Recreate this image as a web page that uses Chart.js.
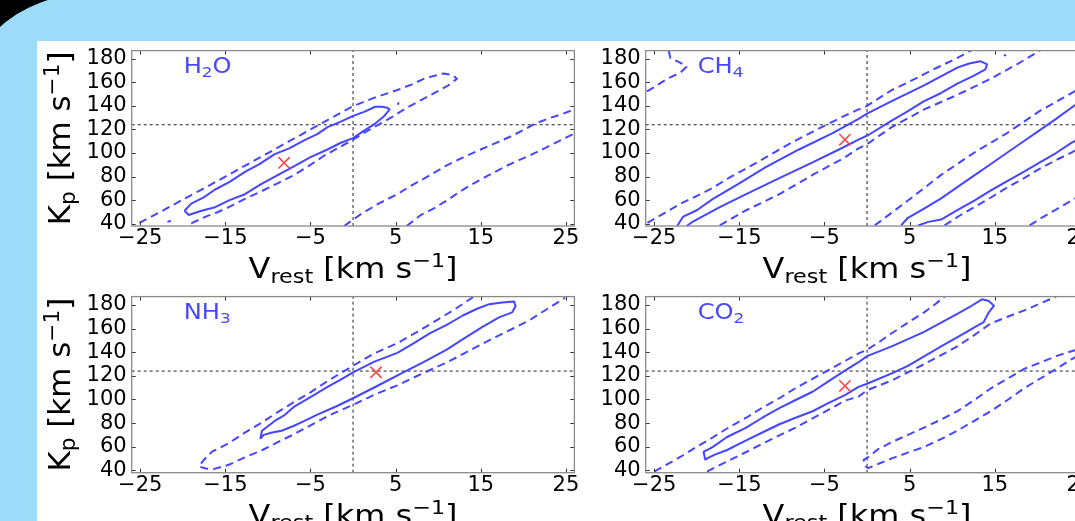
<!DOCTYPE html>
<html><head><meta charset="utf-8">
<script src="https://cdn.jsdelivr.net/npm/chart.js@4.4.1/dist/chart.umd.min.js"></script>
<style>
html{margin:0;padding:0;background:#9cdcf8;overflow:hidden;}
body{margin:0;padding:0;width:1075px;height:521px;overflow:hidden;background:#9cdcf8;position:relative;}
#white{position:absolute;left:37px;top:41px;width:1038px;height:480px;background:#fff;}
#corner{position:absolute;left:0;top:0;z-index:6;}
canvas{position:absolute;}
</style></head><body>
<div id="white"></div>
<svg id="corner" width="60" height="40"><path d="M0 0 L48 0 C30 6 14 14 0 27 Z" fill="#000"/></svg>
<canvas id="c1" width="547" height="245" style="left:37px;top:41px"></canvas>
<canvas id="c2" width="508" height="245" style="left:590px;top:41px"></canvas>
<canvas id="c3" width="547" height="246" style="left:37px;top:287px"></canvas>
<canvas id="c4" width="508" height="246" style="left:590px;top:287px"></canvas>
<script>
// ---------- axes / ticks ----------
const xTicks = [-25, -15, -5, 5, 15, 25];
const yTicks = [40, 60, 80, 100, 120, 140, 160, 180];
const xRange = [-26, 26];
const yRange = [38, 187];
const vRef = 0, kpRef = 124;

// ---------- H2O ----------
const h2o_in_v  = [-19.8,-19.0,-17.5,-16.2,-14.5,-12.7,-11.0,-9.2,-7.5,-5.7,-4.2,-3.0,-1.5,0.0,1.3,2.6,3.4,4.0,4.3,3.6,2.6,1.3,0.0,-1.5,-3.0,-5.0,-7.0,-8.8,-10.8,-12.7,-14.5,-16.2,-17.8,-19.3,-19.8];
const h2o_in_kp = [51,57,62.5,69,75.5,84,90.5,99,104,111,116,122,126.5,131.5,135,139.3,139.3,138.5,137,131,125,119,112.6,108.5,103,96.5,88.5,81.4,73.5,65,60,54,51,47.3,51];
const h2o_out_v  = [-25.1,-22.5,-20,-17.5,-15,-12.5,-10,-7.5,-5,-3,-1.5,0,2.5,5.2,7,8.3,9.5,10.6,11.7,12.2,11.2,9.8,8.0,6.3,4.8,3.2,1.5,0,-1.7,-3.4,-5,-6.9,-8.8,-10.7,-12.7,-14.6,-16,-17.3,-18.9,-19.4];
const h2o_out_kp = [40.6,50.5,60.5,70,80,90,100,110,120,128,134,139.8,147,153.5,158.5,163,165.5,167.6,166.3,163,157.5,152,145,138.5,131.5,125,118,111.3,104.5,97.7,90,81.4,74.5,67.7,61,54,49.5,46,40.6,38];
const h2o_dot1_v = [-21.8,-21.4], h2o_dot1_kp = [41.5,42.5];
const h2o_dot2_v = [5.25,5.35],   h2o_dot2_kp = [141,143];
const h2o_r1_v  = [-1.05,1,3,5.2,7,9,11,13,15,16.8,18.5,20,21.4,23,24.5,26];
const h2o_r1_kp = [38,48.5,57,65,73,81,89.5,96.5,103,108.6,114,119.5,125,129.5,133,137];
const h2o_r2_v  = [6.3,8,9.5,11,12.5,14,16,18,19.5,20.7,22.5,24,26];
const h2o_r2_kp = [38,47.5,53,59.6,67,73.5,81.4,89,94,97.7,104,109.5,116.7];
const h2o_best = [-8.1, 91.7];

// ---------- CH4 ----------
const ch4_tl_v  = [-23.3,-23.1,-21.9,-21.2,-21.9,-23.5,-25,-26.1];
const ch4_tl_kp = [187,180.7,176.6,173.3,168.4,163,156,151.5];
const ch4_up_v  = [-25.8,-23.8,-21.9,-20,-18.1,-16.2,-14.2,-12.2,-10.3,-8.3,-6.4,-4.5,-2.6,-1,0,1.5,2.9,4.8,6.7,8.5,10.4,12.2];
const ch4_up_kp = [40.6,49,57,63.5,70.5,79,86.8,95,103,111,118,125,131.7,137,140,147,153.5,160,167,173.5,180,187];
const ch4_in_v  = [-22.3,-21.6,-20,-18.1,-15.3,-11.9,-8,-4.1,-1,0,2.9,6.7,10.6,12,13.3,14.1,13.9,12.5,10.6,8.7,6.7,4.8,2.9,0.15,-1,-3.3,-6.4,-10.3,-14.2,-17.3,-20.4,-21.2];
const ch4_in_kp = [38,46,51.4,61,73,88,103,116.7,129,133.5,144,157.5,172.5,176,178,175.3,171,165.5,159,151,144,135.5,127.6,115.3,111.3,103,92,78.6,65,54,42,38];
const ch4_lo_v  = [-17.3,-14.2,-10.3,-6.4,-2.6,-1,0,2.9,6.7,10.6,14.5,17.6,20.3];
const ch4_lo_kp = [38.5,51.4,65,81.4,96.3,104,107.5,122,137,149.4,163,175.3,187];
const ch4_dot_v = [16.1,16.3], ch4_dot_kp = [182.3,183.7];
const ch4_b_up_v  = [0.9,4.8,8.7,12.6,16.4,20.3,24,27];
const ch4_b_up_kp = [38.5,59.6,81.4,100.4,116.7,135.8,150.8,163];
const ch4_b_s1_v  = [4.0,4.8,6.5,8.7,10.6,12.6,14.5,16.4,18.4,20.3,22.2,24,27];
const ch4_b_s1_kp = [38.5,45,52,61.5,71,81,90.5,100,110,119.5,129,138.5,153];
const ch4_b_s2_v  = [6,7.2,8.7,10.6,12.6,14.5,16.4,18.4,20.3,22.2,24,27];
const ch4_b_s2_kp = [38.5,41.5,43.5,51.5,59.6,68,76,84,92,100,108.6,120];
const ch4_b_lo_v  = [9.1,10.8,12.6,14.5,16.4,18.4,20.3,22.2,24,27];
const ch4_b_lo_kp = [38.5,46.5,54,62,70.5,78.5,86.8,94,100.4,112];
const ch4_c_v  = [19.1,20.5,22.2,24,27];
const ch4_c_kp = [38.5,45,52,59.6,72];
const ch4_best = [-2.6, 111.3];

// ---------- NH3 ----------
const nh3_out_v  = [14.1,12,9.8,7.5,5.2,2.5,0,-3,-5,-6.9,-8.8,-10.7,-12.7,-14.6,-16.6,-17.5,-18.1,-17.3,-16.4,-14.6,-12.7,-10.7,-8.8,-6.9,-5,-3,0,2.5,5.2,8,11,14,16.8,18.8,20.7,22.8,24.9];
const nh3_out_kp = [186.6,176.5,166.9,157,147.6,139,128.5,115.5,106,98,89.5,80.5,72,63,55.6,49,43.3,41.5,41,44.7,51,57,64,70.7,78,85.9,95.4,104,111.9,121.5,131.2,142.5,153,160,166.9,176.5,186];
const nh3_in_v  = [-10.9,-10.7,-9.2,-8,-6.9,-5,-3,-1.5,0,2.5,5.2,7,9,11,12.9,14.5,16,17.5,18.9,19.1,18.7,17.2,15.2,13,11,8.5,5.9,3,0,-2,-4.2,-5.7,-7,-8.4,-9.5,-10.5,-10.9];
const nh3_in_kp = [66.6,73.5,81.8,87,94,102,110.6,116.5,122.9,132,139.4,147,155.9,163,171,176.5,180.6,182,182.8,179,173.7,169.6,161.3,151.5,142.1,132.5,122.9,112,101,94,87.2,81.8,77.5,73.5,72,70,66.6];
const nh3_best = [2.7, 123];

// ---------- CO2 ----------
const co2_up_v  = [-25,-23.5,-21.9,-20,-18.1,-16.2,-14.2,-12.3,-10.3,-8.4,-6.4,-4.5,-2.6,-1,0,1.5,2.9,4.8,6.7,8,9.1];
const co2_up_kp = [39,45,51.5,60,68,76.5,84.5,93,101,109.5,117.4,125,132.5,139,142,149,156,165,173.7,180.5,187];
const co2_in_v  = [-19,-19.2,-18.1,-16.5,-14.2,-12.3,-10.3,-8.4,-6.4,-4.5,-2.6,-1,0,2.9,4.8,6.7,8.7,10.6,12,13.5,14.3,14.9,14.3,13.7,12.5,11.4,8.7,6.7,4.8,2.9,0.9,0,-1,-2.6,-4.5,-6.4,-8.4,-10.3,-12.3,-14.2,-16.5,-17.8,-18.8,-19];
const co2_in_kp = [48.8,55.6,59.8,68,76.2,84.5,92.7,99.5,106.5,115.5,124.3,131.5,136.6,144.9,151,157.2,165,172.4,178,184.7,183.3,179.2,173.7,165.5,160.5,155.9,144.9,136.5,128.4,122,116,113.3,110.6,103.7,97,90,84.5,79,72,65.3,57,53.5,50.1,48.8];
const co2_lo_v  = [-18.8,-16.1,-14.2,-12.3,-10.3,-8.4,-6.4,-4.5,-2.6,-1,0,2.9,4.8,6.7,8.7,10.6,12.5,14.5,16.5,18.4,20.3,22.2];
const co2_lo_kp = [39,48.8,55.5,62.5,69.5,76.2,84,91.3,99,102.4,107.8,116,123,129.8,137.5,144.9,154,164.1,170,175.1,181,187];
const co2_r_v  = [26,24,22.2,20.3,18.4,16.5,14.5,12.5,10.6,8.7,6.7,4.8,2.9,1.2,0.5,-0.4,-0.2,0.15,1.5,2.9,4.8,6.7,8.7,10.6,12.5,14.5,16.5,18.4,20.3,22.2,24,26];
const co2_r_kp = [145,140.7,136.6,131,125.7,117.5,109.2,99,90,83,76.2,70,63.9,57.5,52.9,48.8,43.3,41.9,46,50.1,55,59.8,66.5,73.5,81.5,90,99.5,109.2,117.5,125.7,133.9,142];
const co2_best = [-2.6, 111.4];

// ---------- styling / building ----------
const FAM = '"DejaVu Sans", sans-serif';
const BLUE = '#4646ff';
const RED = '#ff4646';
const pts = (v, k) => v.map((x, i) => ({x, y: k[i]}));
const contour = (v, k, dashed) => ({data: pts(v, k), showLine: true, borderColor: BLUE, borderWidth: 2,
  borderDash: dashed ? [8, 5] : [], borderJoinStyle: 'round', pointRadius: 0, fill: false, order: 1, clip: 0, tension: 0});
const best = (b) => ({data: [{x: b[0], y: b[1]}], showLine: false, pointStyle: 'crossRot', pointRadius: 8,
  borderColor: RED, backgroundColor: RED, pointBorderWidth: 1.6, order: 0});
const refs = () => [
  {data: [{x: vRef, y: yRange[0]}, {x: vRef, y: yRange[1]}], showLine: true, borderColor: '#222', borderWidth: 1, borderDash: [3, 3], pointRadius: 0, order: 2, clip: 0},
  {data: [{x: xRange[0], y: kpRef}, {x: xRange[1], y: kpRef}], showLine: true, borderColor: '#222', borderWidth: 1, borderDash: [3, 3], pointRadius: 0, order: 2, clip: 0}
];
const fmt = v => (v < 0 ? '\u2212' : '') + Math.abs(v);

function richWidth(ctx, segs, size) {
  let w = 0;
  for (const s of segs) { ctx.font = (size * (s.s || 1)) + 'px ' + FAM; w += ctx.measureText(s.t).width; }
  return w;
}
// draws text segments (sub/superscripts) centred on x, with optional horizontal stretch
function drawRich(ctx, segs, x, y, size, color, stretch) {
  const k = stretch || 1;
  const w = richWidth(ctx, segs, size);
  ctx.save();
  ctx.translate(x, y);
  ctx.scale(k, 1);
  let cx = -w / 2;
  ctx.fillStyle = color; ctx.textAlign = 'left'; ctx.textBaseline = 'alphabetic';
  for (const s of segs) {
    ctx.font = (size * (s.s || 1)) + 'px ' + FAM;
    ctx.fillText(s.t, cx, (s.dy || 0) * size);
    cx += ctx.measureText(s.t).width;
  }
  ctx.restore();
  return w * k;
}
const xTitle = [{t: 'V'}, {t: 'rest', s: 0.7, dy: 0.17}, {t: ' [km s'}, {t: '\u22121', s: 0.7, dy: -0.38}, {t: ']'}];
const yTitle = [{t: 'K'}, {t: 'p', s: 0.7, dy: 0.17}, {t: ' [km s'}, {t: '\u22121', s: 0.7, dy: -0.38}, {t: ']'}];

const framePlugin = {
  id: 'frame',
  afterDraw(chart) {
    const {ctx, chartArea: a, scales: {x, y}} = chart;
    const o = chart.options.plugins.frame;
    ctx.save();
    ctx.strokeStyle = '#333'; ctx.lineWidth = 1;
    ctx.beginPath();
    for (const v of xTicks) {
      const px = Math.round(x.getPixelForValue(v)) + 0.5;
      ctx.moveTo(px, a.top); ctx.lineTo(px, a.top + 4);
      ctx.moveTo(px, a.bottom); ctx.lineTo(px, a.bottom - 4);
    }
    for (const v of yTicks) {
      const py = Math.round(y.getPixelForValue(v)) + 0.5;
      ctx.moveTo(a.left, py); ctx.lineTo(a.left + 4, py);
      ctx.moveTo(a.right, py); ctx.lineTo(a.right - 4, py);
    }
    ctx.stroke();
    ctx.strokeStyle = '#8a8a8a'; ctx.lineWidth = 1.3;
    ctx.strokeRect(a.left, a.top, a.right - a.left, a.bottom - a.top);
    // x title
    drawRich(ctx, xTitle, (a.left + a.right) / 2, a.bottom + 52, 28, '#000', 1.14);
    // y title
    if (o.yTitle) {
      ctx.save();
      ctx.translate(o.yTitleX, (a.top + a.bottom) / 2);
      ctx.rotate(-Math.PI / 2);
      drawRich(ctx, yTitle, 0, 0, 30, '#000', 1.03);
      ctx.restore();
    }
    // panel label
    const w = richWidth(ctx, o.label, 21) * 1.15;
    drawRich(ctx, o.label, a.left + 52 + w / 2, a.top + 22.5, 21, BLUE, 1.15);
    ctx.restore();
  }
};

function makeChart(id, cfg) {
  new Chart(document.getElementById(id), {
    type: 'scatter',
    data: {datasets: cfg.datasets},
    options: {
      responsive: false, animation: false, events: [],
      layout: {padding: {left: 0, top: cfg.padTop, right: cfg.padRight, bottom: 0}},
      plugins: {legend: {display: false}, tooltip: {enabled: false},
        frame: {label: cfg.label, yTitle: cfg.yTitle, yTitleX: 33}},
      scales: {
        x: {type: 'linear', min: xRange[0], max: xRange[1],
          afterBuildTicks: s => { s.ticks = xTicks.map(v => ({value: v})); },
          afterFit: s => { s.height = cfg.xH; s.paddingLeft = 0; s.paddingRight = 0; },
          ticks: {font: {family: FAM, size: 21}, color: '#000', padding: 0, maxRotation: 0, autoSkip: false, callback: fmt},
          grid: {display: false, drawTicks: false, tickLength: 0}, border: {display: false}},
        y: {type: 'linear', min: yRange[0], max: yRange[1],
          afterBuildTicks: s => { s.ticks = yTicks.map(v => ({value: v})); },
          afterFit: s => { s.width = cfg.yW; s.paddingTop = 0; s.paddingBottom = 0; },
          ticks: {font: {family: FAM, size: 21}, color: '#000', padding: 5, autoSkip: false, callback: fmt},
          grid: {display: false, drawTicks: false, tickLength: 0}, border: {display: false}}
      }
    },
    plugins: [framePlugin]
  });
}

const lab = (a, sub, b) => [{t: a}, {t: sub, s: 0.7, dy: 0.2}].concat(b ? [{t: b}] : []);

// right-column canvases run past the window edge (plot area ends at x≈1093)
makeChart('c1', {yW: 94.7, padTop: 3.3, padRight: 4.7, xH: 60, yTitle: true, label: lab('H', '2', 'O'),
  datasets: [best(h2o_best), contour(h2o_in_v, h2o_in_kp, false), contour(h2o_out_v, h2o_out_kp, true),
    contour(h2o_dot1_v, h2o_dot1_kp, false), contour(h2o_dot2_v, h2o_dot2_kp, false),
    contour(h2o_r1_v, h2o_r1_kp, true), contour(h2o_r2_v, h2o_r2_kp, true)].concat(refs())});
makeChart('c2', {yW: 55.7, padTop: 3.3, padRight: 5.1, xH: 60, yTitle: false, label: lab('CH', '4'),
  datasets: [best(ch4_best), contour(ch4_tl_v, ch4_tl_kp, true), contour(ch4_up_v, ch4_up_kp, true),
    contour(ch4_in_v, ch4_in_kp, false), contour(ch4_lo_v, ch4_lo_kp, true), contour(ch4_dot_v, ch4_dot_kp, false),
    contour(ch4_b_up_v, ch4_b_up_kp, true), contour(ch4_b_s1_v, ch4_b_s1_kp, false), contour(ch4_b_s2_v, ch4_b_s2_kp, false),
    contour(ch4_b_lo_v, ch4_b_lo_kp, true), contour(ch4_c_v, ch4_c_kp, true)].concat(refs())});
makeChart('c3', {yW: 94.7, padTop: 3, padRight: 4.7, xH: 60.3, yTitle: true, label: lab('NH', '3'),
  datasets: [best(nh3_best), contour(nh3_out_v, nh3_out_kp, true), contour(nh3_in_v, nh3_in_kp, false)].concat(refs())});
makeChart('c4', {yW: 55.7, padTop: 3, padRight: 5.1, xH: 60.3, yTitle: false, label: lab('CO', '2'),
  datasets: [best(co2_best), contour(co2_up_v, co2_up_kp, true), contour(co2_in_v, co2_in_kp, false),
    contour(co2_lo_v, co2_lo_kp, true), contour(co2_r_v, co2_r_kp, true)].concat(refs())});
</script>
</body></html>
